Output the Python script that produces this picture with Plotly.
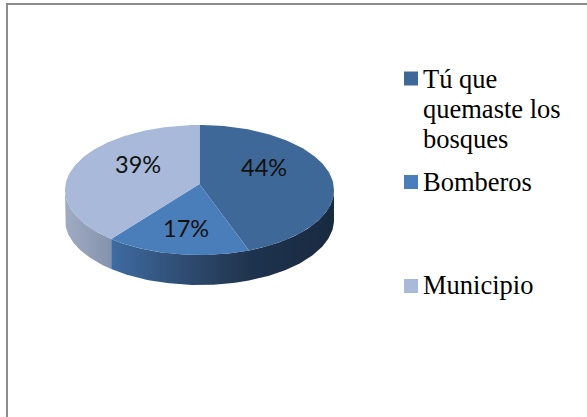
import math
import plotly.graph_objects as go

# Data
category_lines = [["Tú que", "quemaste los", "bosques"], ["Bomberos"], ["Municipio"]]
values = [44, 17.4, 38.6]
pct_labels = ["44%", "17%", "39%"]
top_colors = ["#3E6898", "#4A7EBB", "#A8B9D9"]
side_stops = [
    [[0, "#1E334E"], [1, "#182A40"]],
    [[0, "#3F6CA1"], [0.5, "#2F4E74"], [1, "#20344D"]],
    [[0, "#A1ACC3"], [1, "#8492AD"]],
]
legend_y = [78.5, 182, 286]
legend_first_line_y = [79, 182, 285]
label_pos = [(264, 167), (186, 228), (138, 164)]

# Pie geometry in pixels of the 587x417 page
CX, CY, RX, RY = 199.5, 190, 134.5, 65
APEX_Y, DEPTH = 184, 30
LINE_STEP = 30

fig = go.Figure()


def ell(deg):
    a = math.radians(deg)
    return CX + RX * math.sin(a), CY - RY * math.cos(a)


total = sum(values)
spans = []
acc = 0
for v in values:
    spans.append((acc / total * 360, (acc + v) / total * 360))
    acc += v

# Side walls (only the visible, front half: angles 90..270)
for (a0, a1), stops in zip(spans, side_stops):
    lo, hi = max(a0, 90), min(a1, 270)
    if lo >= hi:
        continue
    n = 60
    angs = [lo + (hi - lo) * i / n for i in range(n + 1)]
    xs = [ell(a)[0] for a in angs]
    ys = [ell(a)[1] for a in angs]
    xw = xs + xs[::-1] + [xs[0]]
    yw = ys + [y + DEPTH for y in ys[::-1]] + [ys[0]]
    fig.add_trace(go.Scatter(
        x=xw, y=yw, mode="lines", line=dict(width=0), fill="toself",
        fillgradient=dict(type="horizontal", colorscale=stops),
        hoverinfo="skip", showlegend=False))

# Top faces
for (a0, a1), col in zip(spans, top_colors):
    n = 120
    angs = [a0 + (a1 - a0) * i / n for i in range(n + 1)]
    xs = [CX] + [ell(a)[0] for a in angs] + [CX]
    ys = [APEX_Y] + [ell(a)[1] for a in angs] + [APEX_Y]
    fig.add_trace(go.Scatter(
        x=xs, y=ys, mode="lines", line=dict(width=0), fill="toself",
        fillcolor=col, hoverinfo="skip", showlegend=False))

annotations = []
for txt, (x, y) in zip(pct_labels, label_pos):
    annotations.append(dict(
        x=x, y=y, xref="x", yref="y", text=txt, showarrow=False,
        font=dict(family="Lato", size=23.5, color="#111111")))

shapes = [
    dict(type="line", xref="x", yref="y", x0=7, x1=587, y0=4, y1=4,
         line=dict(color="#8C8C8C", width=2)),
    dict(type="line", xref="x", yref="y", x0=7, x1=7, y0=3, y1=417,
         line=dict(color="#8C8C8C", width=2)),
]
LEG_X = 404
for lines, col, ly, ty in zip(category_lines, top_colors, legend_y, legend_first_line_y):
    shapes.append(dict(type="rect", xref="x", yref="y", x0=LEG_X, x1=LEG_X + 14,
                       y0=ly - 7, y1=ly + 7, fillcolor=col, line=dict(width=0)))
    for i, line in enumerate(lines):
        annotations.append(dict(
            x=421, y=ty + i * LINE_STEP, xref="x", yref="y", text=line,
            showarrow=False, align="left", xanchor="left", yanchor="middle",
            font=dict(family="Liberation Serif", size=26.5, color="#000000")))

fig.update_layout(
    width=587, height=417, margin=dict(l=0, r=0, t=0, b=0),
    paper_bgcolor="white", plot_bgcolor="white",
    xaxis=dict(range=[0, 587], visible=False, fixedrange=True),
    yaxis=dict(range=[417, 0], visible=False, fixedrange=True),
    showlegend=False, annotations=annotations, shapes=shapes,
)
fig.write_html("out.html", config={"displayModeBar": False},
               post_script="document.body.style.margin='0';document.body.style.overflow='hidden';")
